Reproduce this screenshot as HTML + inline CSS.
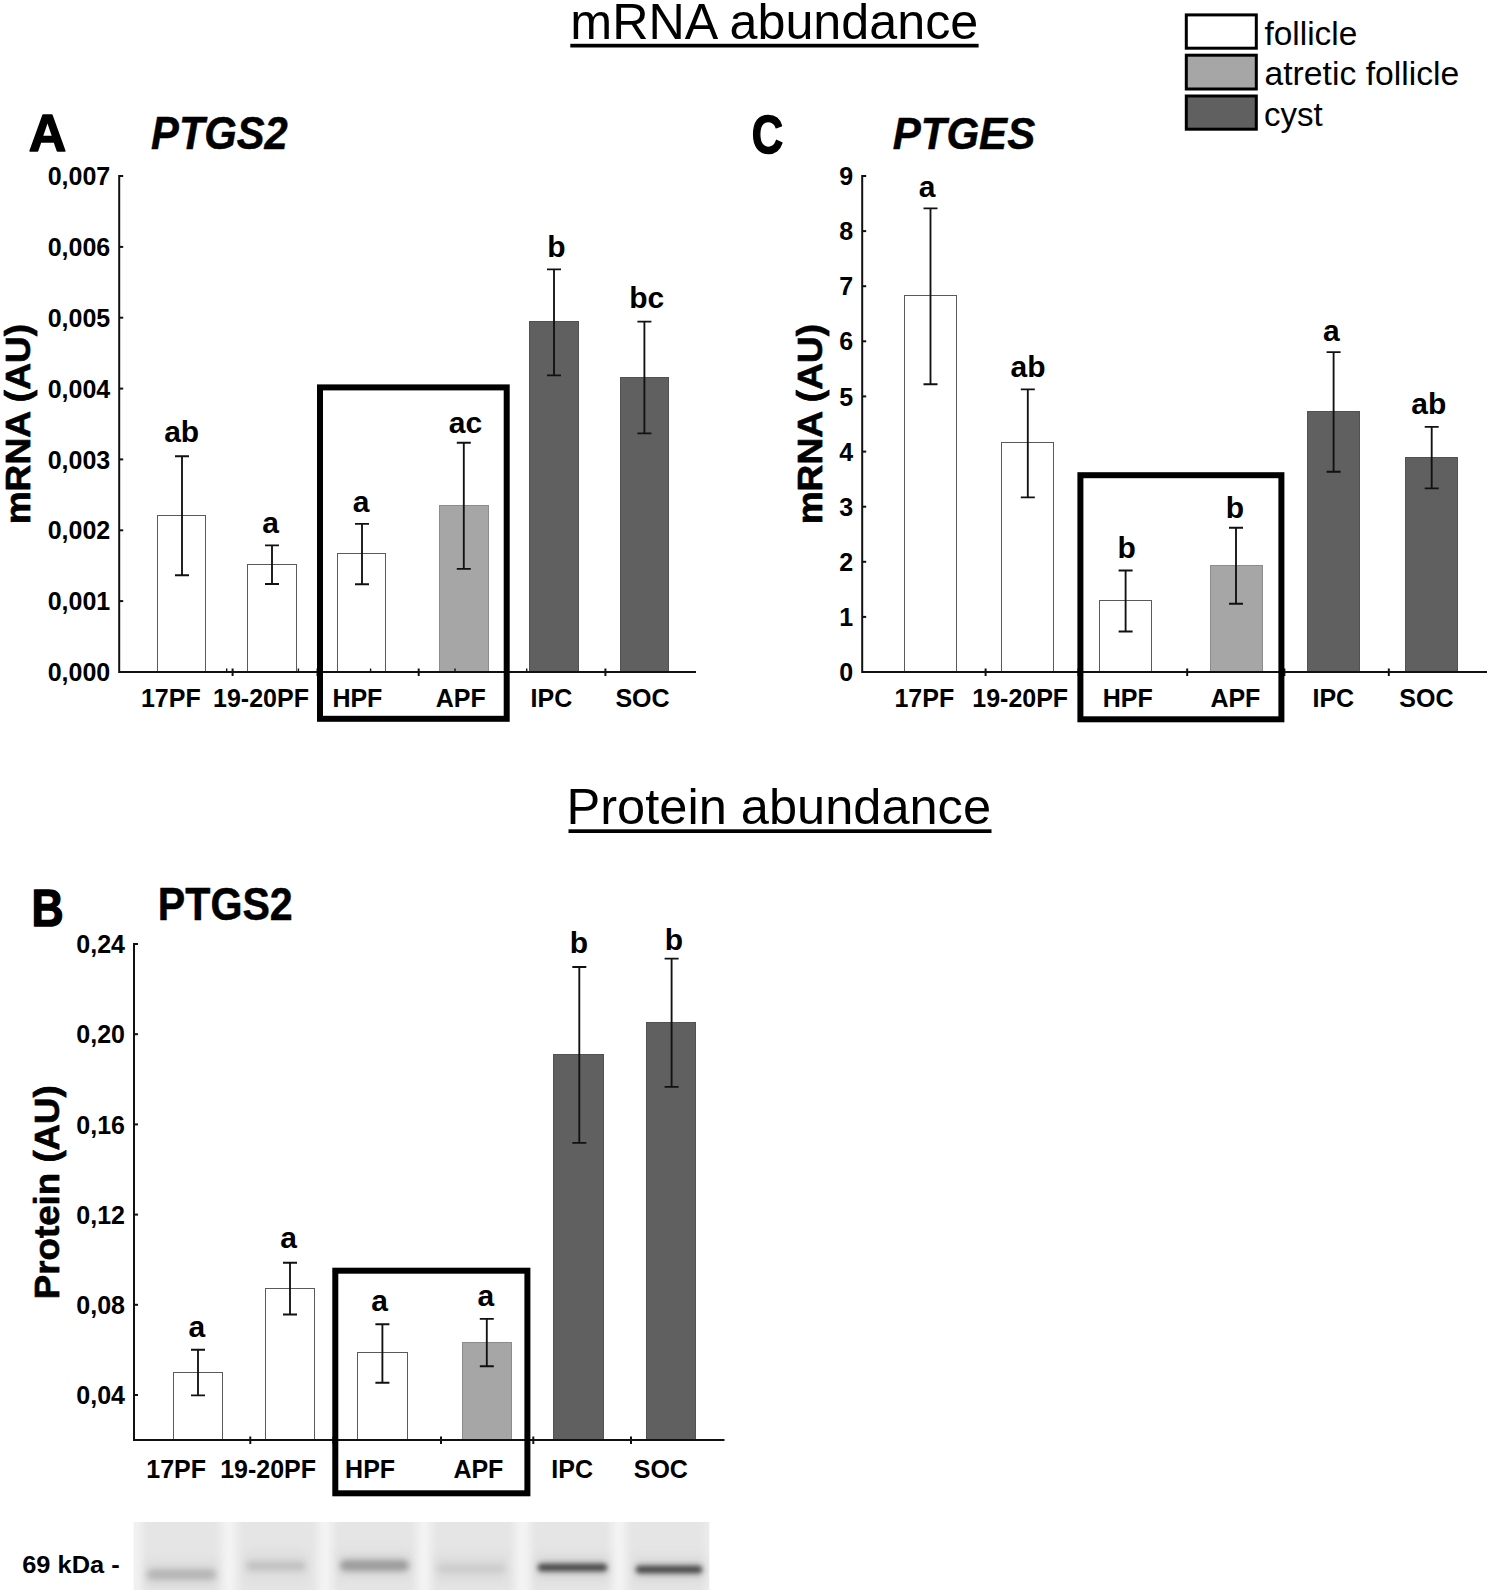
<!DOCTYPE html>
<html lang="en"><head><meta charset="utf-8"><title>PTGS2 and PTGES mRNA and protein abundance</title>
<style>html,body{margin:0;padding:0;background:#fff}svg{display:block}</style></head><body>
<svg width="1490" height="1593" viewBox="0 0 1490 1593" fill="#000">
<defs>
<filter id="b1" x="-20%" y="-300%" width="140%" height="700%"><feGaussianBlur stdDeviation="2.6 2.7"/></filter>
<filter id="b2" x="-20%" y="-300%" width="140%" height="700%"><feGaussianBlur stdDeviation="3 3.2"/></filter>
<filter id="b4" x="-20%" y="-100%" width="140%" height="300%"><feGaussianBlur stdDeviation="5 6"/></filter>
<filter id="b3" x="-10%" y="-10%" width="120%" height="120%"><feGaussianBlur stdDeviation="4 0.1"/></filter>
</defs>
<rect width="1490" height="1593" fill="#fff"/>
<text transform="translate(570.28 39.10) scale(1.0055 1.0111)" font-size="50" font-family="Liberation Sans, sans-serif">mRNA abundance</text>
<text transform="translate(566.55 824.20) scale(1.0116 1.0111)" font-size="50" font-family="Liberation Sans, sans-serif">Protein abundance</text>
<text transform="translate(1264.50 44.80) scale(1.0281 1.0083)" font-size="32.5" font-family="Liberation Sans, sans-serif">follicle</text>
<text transform="translate(1264.46 85.20) scale(1.0378 1.0167)" font-size="32.5" font-family="Liberation Sans, sans-serif">atretic follicle</text>
<text transform="translate(1263.98 125.71) scale(1.0175 1.0414)" font-size="32.5" font-family="Liberation Sans, sans-serif">cyst</text>
<text transform="translate(28.86 150.76) scale(1.0382 1.0405)" font-size="50" font-family="Liberation Sans, sans-serif" font-weight="bold" stroke="#000" stroke-width="1.4" stroke-linejoin="round">A</text>
<text transform="translate(751.73 152.92) scale(0.8706 1.0811)" font-size="50" font-family="Liberation Sans, sans-serif" font-weight="bold" stroke="#000" stroke-width="1.4" stroke-linejoin="round">C</text>
<text transform="translate(31.53 925.88) scale(0.8903 1.0243)" font-size="50" font-family="Liberation Sans, sans-serif" font-weight="bold" stroke="#000" stroke-width="1.4" stroke-linejoin="round">B</text>
<text transform="translate(151.09 148.90) scale(1.0052 1.1107)" font-size="41.5" font-style="italic" font-family="Liberation Sans, sans-serif" font-weight="bold" stroke="#000" stroke-width="0.45" stroke-linejoin="round">PTGS2</text>
<text transform="translate(892.79 148.50) scale(1.0122 1.0821)" font-size="41.5" font-style="italic" font-family="Liberation Sans, sans-serif" font-weight="bold" stroke="#000" stroke-width="0.45" stroke-linejoin="round">PTGES</text>
<text transform="translate(157.82 919.90) scale(0.9917 1.1036)" font-size="41.5" font-family="Liberation Sans, sans-serif" font-weight="bold" stroke="#000" stroke-width="0.45" stroke-linejoin="round">PTGS2</text>
<text transform="translate(29.55 524.36) rotate(-90) scale(1.0304 0.9686)" font-size="36" font-family="Liberation Sans, sans-serif" font-weight="bold" stroke="#000" stroke-width="0.7" stroke-linejoin="round">mRNA (AU)</text>
<text transform="translate(821.95 524.36) rotate(-90) scale(1.0304 0.9686)" font-size="36" font-family="Liberation Sans, sans-serif" font-weight="bold" stroke="#000" stroke-width="0.7" stroke-linejoin="round">mRNA (AU)</text>
<text transform="translate(59.03 1299.14) rotate(-90) scale(1.0193 0.9714)" font-size="36" font-family="Liberation Sans, sans-serif" font-weight="bold" stroke="#000" stroke-width="0.7" stroke-linejoin="round">Protein (AU)</text>
<text transform="translate(22.18 1572.90) scale(1.0170 0.9316)" font-size="25" font-family="Liberation Sans, sans-serif" font-weight="bold">69 kDa -</text>
<rect x="570.3" y="43.8" width="408.3" height="3.7" fill="#000"/>
<rect x="568.5" y="829.3" width="423" height="3.7" fill="#000"/>
<rect x="1186.3" y="14.9" width="70" height="33.3" fill="#ffffff" stroke="#000" stroke-width="3"/>
<rect x="1186.3" y="55.2" width="70" height="33.8" fill="#a6a6a6" stroke="#000" stroke-width="3"/>
<rect x="1186.3" y="96.0" width="70" height="33.2" fill="#606060" stroke="#000" stroke-width="3"/>
<rect x="157.5" y="515.5" width="48.0" height="156.5" fill="#ffffff" stroke="#5a5a5a" stroke-width="1"/>
<rect x="247.5" y="564.5" width="49.0" height="107.5" fill="#ffffff" stroke="#5a5a5a" stroke-width="1"/>
<rect x="337.5" y="553.5" width="48.0" height="118.5" fill="#ffffff" stroke="#5a5a5a" stroke-width="1"/>
<rect x="439.5" y="505.5" width="49.0" height="166.5" fill="#a6a6a6" stroke="#8c8c8c" stroke-width="1"/>
<rect x="529.5" y="321.5" width="49.0" height="350.5" fill="#606060" stroke="#525252" stroke-width="1"/>
<rect x="620.5" y="377.5" width="48.0" height="294.5" fill="#606060" stroke="#525252" stroke-width="1"/>
<path d="M226.7 668.5V672.0" stroke="#111" stroke-width="1.4"/>
<path d="M232.6 668.5V676.0" stroke="#111" stroke-width="2"/>
<path d="M298.4 668.5V672.0" stroke="#111" stroke-width="1.4"/>
<path d="M317.5 668.5V676.0" stroke="#111" stroke-width="2"/>
<path d="M370.6 668.5V672.0" stroke="#111" stroke-width="1.4"/>
<path d="M418.7 668.5V676.0" stroke="#111" stroke-width="2"/>
<path d="M455.0 668.5V672.0" stroke="#111" stroke-width="1.4"/>
<path d="M526.7 668.5V672.0" stroke="#111" stroke-width="1.4"/>
<path d="M605.4 668.5V676.0" stroke="#111" stroke-width="2"/>
<path d="M119.2 175.0V672.0H696.0" stroke="#111" stroke-width="2" fill="none" stroke-linejoin="miter"/>
<path d="M119.2 176.0H123.2" stroke="#111" stroke-width="2"/>
<text x="110.2" y="185.1" font-size="25" text-anchor="end" font-family="Liberation Sans, sans-serif" font-weight="bold">0,007</text>
<path d="M119.2 246.9H123.2" stroke="#111" stroke-width="2"/>
<text x="110.2" y="256.0" font-size="25" text-anchor="end" font-family="Liberation Sans, sans-serif" font-weight="bold">0,006</text>
<path d="M119.2 317.7H123.2" stroke="#111" stroke-width="2"/>
<text x="110.2" y="326.8" font-size="25" text-anchor="end" font-family="Liberation Sans, sans-serif" font-weight="bold">0,005</text>
<path d="M119.2 388.6H123.2" stroke="#111" stroke-width="2"/>
<text x="110.2" y="397.7" font-size="25" text-anchor="end" font-family="Liberation Sans, sans-serif" font-weight="bold">0,004</text>
<path d="M119.2 459.4H123.2" stroke="#111" stroke-width="2"/>
<text x="110.2" y="468.5" font-size="25" text-anchor="end" font-family="Liberation Sans, sans-serif" font-weight="bold">0,003</text>
<path d="M119.2 530.3H123.2" stroke="#111" stroke-width="2"/>
<text x="110.2" y="539.4" font-size="25" text-anchor="end" font-family="Liberation Sans, sans-serif" font-weight="bold">0,002</text>
<path d="M119.2 601.1H123.2" stroke="#111" stroke-width="2"/>
<text x="110.2" y="610.2" font-size="25" text-anchor="end" font-family="Liberation Sans, sans-serif" font-weight="bold">0,001</text>
<path d="M119.2 672.0H123.2" stroke="#111" stroke-width="2"/>
<text x="110.2" y="681.1" font-size="25" text-anchor="end" font-family="Liberation Sans, sans-serif" font-weight="bold">0,000</text>
<path d="M182.0 456.2V575.2M175.0 456.2H189.0M175.0 575.2H189.0" stroke="#111" stroke-width="1.85" fill="none"/>
<text x="181.7" y="442.1" font-size="30" text-anchor="middle" font-family="Liberation Sans, sans-serif" font-weight="bold">ab</text>
<path d="M272.0 545.4V584.0M265.0 545.4H279.0M265.0 584.0H279.0" stroke="#111" stroke-width="1.85" fill="none"/>
<text x="270.5" y="532.8" font-size="30" text-anchor="middle" font-family="Liberation Sans, sans-serif" font-weight="bold">a</text>
<path d="M362.0 523.8V584.2M355.0 523.8H369.0M355.0 584.2H369.0" stroke="#111" stroke-width="1.85" fill="none"/>
<text x="361.0" y="512.3" font-size="30" text-anchor="middle" font-family="Liberation Sans, sans-serif" font-weight="bold">a</text>
<path d="M463.8 442.7V568.9M456.8 442.7H470.8M456.8 568.9H470.8" stroke="#111" stroke-width="1.85" fill="none"/>
<text x="465.4" y="432.5" font-size="30" text-anchor="middle" font-family="Liberation Sans, sans-serif" font-weight="bold">ac</text>
<path d="M554.0 269.3V375.3M547.0 269.3H561.0M547.0 375.3H561.0" stroke="#111" stroke-width="1.85" fill="none"/>
<text x="556.5" y="256.7" font-size="30" text-anchor="middle" font-family="Liberation Sans, sans-serif" font-weight="bold">b</text>
<path d="M644.4 321.6V433.3M637.4 321.6H651.4M637.4 433.3H651.4" stroke="#111" stroke-width="1.85" fill="none"/>
<text x="646.7" y="307.7" font-size="30" text-anchor="middle" font-family="Liberation Sans, sans-serif" font-weight="bold">bc</text>
<text x="170.8" y="707.0" font-size="25" text-anchor="middle" font-family="Liberation Sans, sans-serif" font-weight="bold">17PF</text>
<text x="261.0" y="707.0" font-size="25" text-anchor="middle" font-family="Liberation Sans, sans-serif" font-weight="bold">19-20PF</text>
<text x="357.4" y="707.0" font-size="25" text-anchor="middle" font-family="Liberation Sans, sans-serif" font-weight="bold">HPF</text>
<text x="460.7" y="707.0" font-size="25" text-anchor="middle" font-family="Liberation Sans, sans-serif" font-weight="bold">APF</text>
<text x="551.4" y="707.0" font-size="25" text-anchor="middle" font-family="Liberation Sans, sans-serif" font-weight="bold">IPC</text>
<text x="642.5" y="707.0" font-size="25" text-anchor="middle" font-family="Liberation Sans, sans-serif" font-weight="bold">SOC</text>
<rect x="320.0" y="387.4" width="186.7" height="331.4" fill="none" stroke="#000" stroke-width="6"/>
<rect x="904.5" y="295.5" width="52.0" height="376.5" fill="#ffffff" stroke="#5a5a5a" stroke-width="1"/>
<rect x="1001.5" y="442.5" width="52.0" height="229.5" fill="#ffffff" stroke="#5a5a5a" stroke-width="1"/>
<rect x="1099.5" y="600.5" width="52.0" height="71.5" fill="#ffffff" stroke="#5a5a5a" stroke-width="1"/>
<rect x="1210.5" y="565.5" width="52.0" height="106.5" fill="#a6a6a6" stroke="#8c8c8c" stroke-width="1"/>
<rect x="1307.5" y="411.5" width="52.0" height="260.5" fill="#606060" stroke="#525252" stroke-width="1"/>
<rect x="1405.5" y="457.5" width="52.0" height="214.5" fill="#606060" stroke="#525252" stroke-width="1"/>
<path d="M985.6 668.5V676.0" stroke="#111" stroke-width="2"/>
<path d="M1078.5 668.5V676.0" stroke="#111" stroke-width="2"/>
<path d="M1187.2 668.5V676.0" stroke="#111" stroke-width="2"/>
<path d="M1284.4 668.5V676.0" stroke="#111" stroke-width="2"/>
<path d="M1388.8 668.5V676.0" stroke="#111" stroke-width="2"/>
<path d="M862.2 175.0V672.0H1487.0" stroke="#111" stroke-width="2" fill="none" stroke-linejoin="miter"/>
<path d="M862.2 176.0H866.2" stroke="#111" stroke-width="2"/>
<text x="853.2" y="185.1" font-size="25" text-anchor="end" font-family="Liberation Sans, sans-serif" font-weight="bold">9</text>
<path d="M862.2 231.1H866.2" stroke="#111" stroke-width="2"/>
<text x="853.2" y="240.2" font-size="25" text-anchor="end" font-family="Liberation Sans, sans-serif" font-weight="bold">8</text>
<path d="M862.2 286.2H866.2" stroke="#111" stroke-width="2"/>
<text x="853.2" y="295.3" font-size="25" text-anchor="end" font-family="Liberation Sans, sans-serif" font-weight="bold">7</text>
<path d="M862.2 341.3H866.2" stroke="#111" stroke-width="2"/>
<text x="853.2" y="350.4" font-size="25" text-anchor="end" font-family="Liberation Sans, sans-serif" font-weight="bold">6</text>
<path d="M862.2 396.4H866.2" stroke="#111" stroke-width="2"/>
<text x="853.2" y="405.5" font-size="25" text-anchor="end" font-family="Liberation Sans, sans-serif" font-weight="bold">5</text>
<path d="M862.2 451.6H866.2" stroke="#111" stroke-width="2"/>
<text x="853.2" y="460.7" font-size="25" text-anchor="end" font-family="Liberation Sans, sans-serif" font-weight="bold">4</text>
<path d="M862.2 506.7H866.2" stroke="#111" stroke-width="2"/>
<text x="853.2" y="515.8" font-size="25" text-anchor="end" font-family="Liberation Sans, sans-serif" font-weight="bold">3</text>
<path d="M862.2 561.8H866.2" stroke="#111" stroke-width="2"/>
<text x="853.2" y="570.9" font-size="25" text-anchor="end" font-family="Liberation Sans, sans-serif" font-weight="bold">2</text>
<path d="M862.2 616.9H866.2" stroke="#111" stroke-width="2"/>
<text x="853.2" y="626.0" font-size="25" text-anchor="end" font-family="Liberation Sans, sans-serif" font-weight="bold">1</text>
<path d="M862.2 672.0H866.2" stroke="#111" stroke-width="2"/>
<text x="853.2" y="681.1" font-size="25" text-anchor="end" font-family="Liberation Sans, sans-serif" font-weight="bold">0</text>
<path d="M930.5 208.4V384.2M923.5 208.4H937.5M923.5 384.2H937.5" stroke="#111" stroke-width="1.85" fill="none"/>
<text x="927.0" y="196.8" font-size="30" text-anchor="middle" font-family="Liberation Sans, sans-serif" font-weight="bold">a</text>
<path d="M1027.8 389.3V497.4M1020.8 389.3H1034.8M1020.8 497.4H1034.8" stroke="#111" stroke-width="1.85" fill="none"/>
<text x="1028.0" y="377.3" font-size="30" text-anchor="middle" font-family="Liberation Sans, sans-serif" font-weight="bold">ab</text>
<path d="M1125.6 570.5V631.5M1118.6 570.5H1132.6M1118.6 631.5H1132.6" stroke="#111" stroke-width="1.85" fill="none"/>
<text x="1126.6" y="558.3" font-size="30" text-anchor="middle" font-family="Liberation Sans, sans-serif" font-weight="bold">b</text>
<path d="M1236.0 527.7V603.7M1229.0 527.7H1243.0M1229.0 603.7H1243.0" stroke="#111" stroke-width="1.85" fill="none"/>
<text x="1235.0" y="517.9" font-size="30" text-anchor="middle" font-family="Liberation Sans, sans-serif" font-weight="bold">b</text>
<path d="M1333.6 352.1V471.7M1326.6 352.1H1340.6M1326.6 471.7H1340.6" stroke="#111" stroke-width="1.85" fill="none"/>
<text x="1331.4" y="341.1" font-size="30" text-anchor="middle" font-family="Liberation Sans, sans-serif" font-weight="bold">a</text>
<path d="M1431.7 426.9V488.4M1424.7 426.9H1438.7M1424.7 488.4H1438.7" stroke="#111" stroke-width="1.85" fill="none"/>
<text x="1428.8" y="414.3" font-size="30" text-anchor="middle" font-family="Liberation Sans, sans-serif" font-weight="bold">ab</text>
<text x="924.3" y="706.5" font-size="25" text-anchor="middle" font-family="Liberation Sans, sans-serif" font-weight="bold">17PF</text>
<text x="1020.2" y="706.5" font-size="25" text-anchor="middle" font-family="Liberation Sans, sans-serif" font-weight="bold">19-20PF</text>
<text x="1127.7" y="706.5" font-size="25" text-anchor="middle" font-family="Liberation Sans, sans-serif" font-weight="bold">HPF</text>
<text x="1235.4" y="706.5" font-size="25" text-anchor="middle" font-family="Liberation Sans, sans-serif" font-weight="bold">APF</text>
<text x="1333.3" y="706.5" font-size="25" text-anchor="middle" font-family="Liberation Sans, sans-serif" font-weight="bold">IPC</text>
<text x="1426.4" y="706.5" font-size="25" text-anchor="middle" font-family="Liberation Sans, sans-serif" font-weight="bold">SOC</text>
<rect x="1080.4" y="475.2" width="201.0" height="244.1" fill="none" stroke="#000" stroke-width="6"/>
<rect x="173.5" y="1372.5" width="49.0" height="67.5" fill="#ffffff" stroke="#5a5a5a" stroke-width="1"/>
<rect x="265.5" y="1288.5" width="49.0" height="151.5" fill="#ffffff" stroke="#5a5a5a" stroke-width="1"/>
<rect x="357.5" y="1352.5" width="50.0" height="87.5" fill="#ffffff" stroke="#5a5a5a" stroke-width="1"/>
<rect x="462.5" y="1342.5" width="49.0" height="97.5" fill="#a6a6a6" stroke="#8c8c8c" stroke-width="1"/>
<rect x="553.5" y="1054.5" width="50.0" height="385.5" fill="#606060" stroke="#525252" stroke-width="1"/>
<rect x="646.5" y="1022.5" width="49.0" height="417.5" fill="#606060" stroke="#525252" stroke-width="1"/>
<path d="M250.3 1436.5V1444.0" stroke="#111" stroke-width="2"/>
<path d="M333.5 1436.5V1444.0" stroke="#111" stroke-width="2"/>
<path d="M441.0 1436.5V1444.0" stroke="#111" stroke-width="2"/>
<path d="M533.3 1436.5V1444.0" stroke="#111" stroke-width="2"/>
<path d="M631.0 1436.5V1444.0" stroke="#111" stroke-width="2"/>
<path d="M134.0 943.0V1440.0H724.5" stroke="#111" stroke-width="2" fill="none" stroke-linejoin="miter"/>
<path d="M134.0 944.0H138.0" stroke="#111" stroke-width="2"/>
<text x="125.0" y="953.1" font-size="25" text-anchor="end" font-family="Liberation Sans, sans-serif" font-weight="bold">0,24</text>
<path d="M134.0 1034.2H138.0" stroke="#111" stroke-width="2"/>
<text x="125.0" y="1043.3" font-size="25" text-anchor="end" font-family="Liberation Sans, sans-serif" font-weight="bold">0,20</text>
<path d="M134.0 1124.4H138.0" stroke="#111" stroke-width="2"/>
<text x="125.0" y="1133.5" font-size="25" text-anchor="end" font-family="Liberation Sans, sans-serif" font-weight="bold">0,16</text>
<path d="M134.0 1214.6H138.0" stroke="#111" stroke-width="2"/>
<text x="125.0" y="1223.7" font-size="25" text-anchor="end" font-family="Liberation Sans, sans-serif" font-weight="bold">0,12</text>
<path d="M134.0 1304.8H138.0" stroke="#111" stroke-width="2"/>
<text x="125.0" y="1313.9" font-size="25" text-anchor="end" font-family="Liberation Sans, sans-serif" font-weight="bold">0,08</text>
<path d="M134.0 1395.0H138.0" stroke="#111" stroke-width="2"/>
<text x="125.0" y="1404.1" font-size="25" text-anchor="end" font-family="Liberation Sans, sans-serif" font-weight="bold">0,04</text>
<path d="M198.0 1349.7V1395.3M191.0 1349.7H205.0M191.0 1395.3H205.0" stroke="#111" stroke-width="1.85" fill="none"/>
<text x="196.8" y="1337.4" font-size="30" text-anchor="middle" font-family="Liberation Sans, sans-serif" font-weight="bold">a</text>
<path d="M290.0 1262.7V1314.5M283.0 1262.7H297.0M283.0 1314.5H297.0" stroke="#111" stroke-width="1.85" fill="none"/>
<text x="288.7" y="1248.3" font-size="30" text-anchor="middle" font-family="Liberation Sans, sans-serif" font-weight="bold">a</text>
<path d="M382.4 1324.2V1382.7M375.4 1324.2H389.4M375.4 1382.7H389.4" stroke="#111" stroke-width="1.85" fill="none"/>
<text x="379.7" y="1310.5" font-size="30" text-anchor="middle" font-family="Liberation Sans, sans-serif" font-weight="bold">a</text>
<path d="M486.8 1318.8V1366.2M479.8 1318.8H493.8M479.8 1366.2H493.8" stroke="#111" stroke-width="1.85" fill="none"/>
<text x="485.8" y="1305.8" font-size="30" text-anchor="middle" font-family="Liberation Sans, sans-serif" font-weight="bold">a</text>
<path d="M579.3 967.0V1142.8M572.3 967.0H586.3M572.3 1142.8H586.3" stroke="#111" stroke-width="1.85" fill="none"/>
<text x="578.9" y="953.3" font-size="30" text-anchor="middle" font-family="Liberation Sans, sans-serif" font-weight="bold">b</text>
<path d="M671.6 958.6V1086.9M664.6 958.6H678.6M664.6 1086.9H678.6" stroke="#111" stroke-width="1.85" fill="none"/>
<text x="673.9" y="949.5" font-size="30" text-anchor="middle" font-family="Liberation Sans, sans-serif" font-weight="bold">b</text>
<text x="176.2" y="1477.5" font-size="25" text-anchor="middle" font-family="Liberation Sans, sans-serif" font-weight="bold">17PF</text>
<text x="268.1" y="1477.5" font-size="25" text-anchor="middle" font-family="Liberation Sans, sans-serif" font-weight="bold">19-20PF</text>
<text x="370.1" y="1477.5" font-size="25" text-anchor="middle" font-family="Liberation Sans, sans-serif" font-weight="bold">HPF</text>
<text x="478.4" y="1477.5" font-size="25" text-anchor="middle" font-family="Liberation Sans, sans-serif" font-weight="bold">APF</text>
<text x="572.2" y="1477.5" font-size="25" text-anchor="middle" font-family="Liberation Sans, sans-serif" font-weight="bold">IPC</text>
<text x="660.8" y="1477.5" font-size="25" text-anchor="middle" font-family="Liberation Sans, sans-serif" font-weight="bold">SOC</text>
<rect x="335.3" y="1270.7" width="192.1" height="222.6" fill="none" stroke="#000" stroke-width="6"/>
<g>
<rect x="133.5" y="1522" width="576" height="68" fill="#e5e5e5"/>
<g filter="url(#b3)" fill="#f4f4f4">
<rect x="131.0" y="1522" width="10" height="68"/>
<rect x="221.5" y="1522" width="15" height="68"/>
<rect x="318.0" y="1522" width="14" height="68"/>
<rect x="417.0" y="1522" width="14" height="68"/>
<rect x="515.0" y="1522" width="15" height="68"/>
<rect x="612.0" y="1522" width="14" height="68"/>
<rect x="707.5" y="1522" width="5" height="68"/>
</g>
<rect x="145" y="1560.5" width="73" height="28" fill="#d6d6d6" opacity="0.55" filter="url(#b4)"/>
<rect x="147" y="1568.0" width="69" height="13" rx="6.5" fill="#c8c8c8" opacity="0.8" filter="url(#b2)"/>
<rect x="148" y="1571.0" width="67" height="7" rx="3.5" fill="#b0b0b0" filter="url(#b2)"/>
<rect x="244" y="1552.0" width="64" height="28" fill="#d6d6d6" opacity="0.55" filter="url(#b4)"/>
<rect x="246" y="1560.5" width="60" height="11" rx="5.5" fill="#d0d0d0" opacity="0.7" filter="url(#b2)"/>
<rect x="247" y="1563.5" width="58" height="5" rx="2.5" fill="#b8b8b8" filter="url(#b2)"/>
<rect x="338" y="1551.5" width="73" height="28" fill="#d6d6d6" opacity="0.55" filter="url(#b4)"/>
<rect x="340" y="1558.5" width="69" height="14" rx="7.0" fill="#c0c0c0" opacity="0.8" filter="url(#b2)"/>
<rect x="341" y="1561.5" width="67" height="8" rx="4.0" fill="#949494" filter="url(#b2)"/>
<rect x="435" y="1554.5" width="73" height="28" fill="#d6d6d6" opacity="0.55" filter="url(#b4)"/>
<rect x="437" y="1562.0" width="69" height="13" rx="6.5" fill="#d8d8d8" opacity="0.7" filter="url(#b2)"/>
<rect x="438" y="1565.0" width="67" height="7" rx="3.5" fill="#cacaca" filter="url(#b2)"/>
<rect x="535" y="1553.5" width="75" height="28" fill="#d6d6d6" opacity="0.55" filter="url(#b4)"/>
<rect x="537" y="1561.0" width="71" height="13" rx="6.5" fill="#b8b8b8" opacity="0.7" filter="url(#b2)"/>
<rect x="538" y="1564.0" width="69" height="7" rx="3.5" fill="#454545" filter="url(#b1)"/>
<rect x="633" y="1555.5" width="72" height="28" fill="#d6d6d6" opacity="0.55" filter="url(#b4)"/>
<rect x="635" y="1563.0" width="68" height="13" rx="6.5" fill="#b8b8b8" opacity="0.7" filter="url(#b2)"/>
<rect x="636" y="1566.0" width="66" height="7" rx="3.5" fill="#454545" filter="url(#b1)"/>
</g>
<rect x="0" y="1590" width="1490" height="3" fill="#fff"/>
<rect x="709.5" y="1515" width="40" height="78" fill="#fff"/>
<rect x="120" y="1515" width="13.5" height="78" fill="#fff"/>
</svg></body></html>
